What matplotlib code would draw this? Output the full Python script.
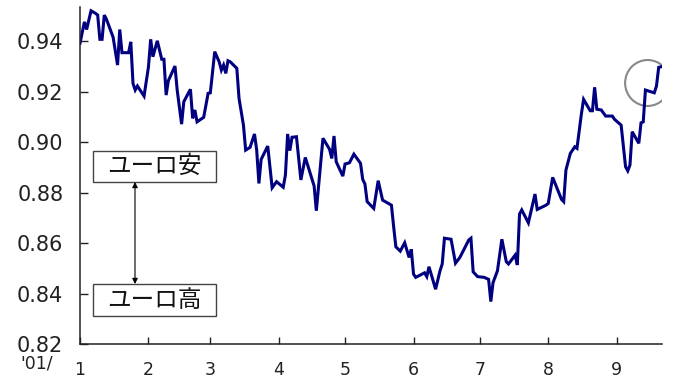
import matplotlib
matplotlib.use("Agg")
import matplotlib.pyplot as plt
from matplotlib.patches import Ellipse, Rectangle

# Day offsets from 2001-01-01 and EUR/USD rate
days = [0, 2, 3, 5, 7, 8, 9, 10, 11, 12, 15, 17, 18, 19, 22, 23, 24, 25, 26, 29,
        31, 32, 33, 35, 37, 38, 39, 40, 43, 44, 46, 47, 50, 51, 52, 53, 56, 58, 59, 61,
        63, 64, 65, 66, 67, 68, 71, 72, 74, 75, 77, 79, 80, 81, 82, 85, 87, 89, 92, 93,
        94, 95, 96, 98, 100, 102, 106, 107, 110, 113, 114, 115, 116, 119, 120, 122, 124, 127, 128, 129,
        130, 133, 135, 137, 141, 142, 143, 145, 147, 149, 150, 151, 152, 156, 157, 158, 161, 163, 164, 165,
        168, 170, 172, 176, 177, 178, 180, 183, 185, 186, 187, 189, 191, 193, 194, 197, 198, 199, 200, 203,
        206, 207, 211, 212, 214, 218, 219, 220, 222, 224, 225, 227, 228, 231, 232, 233, 234, 236, 238, 241,
        242, 245, 247, 248, 249, 250, 253, 254, 255, 256, 260, 261, 262, 263]
rates = [0.9391, 0.9476, 0.9446, 0.9520, 0.9510, 0.9503, 0.9407, 0.9407, 0.9503, 0.9486,
         0.9415, 0.9305, 0.9446, 0.9354, 0.9354, 0.9397, 0.9232, 0.9206, 0.9222, 0.9182,
         0.9298, 0.9407, 0.9338, 0.9401, 0.9328, 0.9328, 0.9186, 0.9243, 0.9301, 0.9206,
         0.9071, 0.9160, 0.9209, 0.9094, 0.9127, 0.9080, 0.9098, 0.9193, 0.9195, 0.9358,
         0.9318, 0.9285, 0.9305, 0.9272, 0.9322, 0.9318, 0.9292, 0.9173, 0.9067, 0.8968,
         0.8979, 0.9032, 0.8968, 0.8836, 0.8931, 0.8984, 0.8819, 0.8843, 0.8821, 0.8869,
         0.9032, 0.8966, 0.9019, 0.9021, 0.8850, 0.8939, 0.8826, 0.8728, 0.9015, 0.8971,
         0.8935, 0.9024, 0.8922, 0.8865, 0.8913, 0.8918, 0.8952, 0.8916, 0.8852, 0.8834,
         0.8764, 0.8737, 0.8847, 0.8770, 0.8750, 0.8665, 0.8585, 0.8568, 0.8601, 0.8543,
         0.8575, 0.8477, 0.8464, 0.8482, 0.8467, 0.8506, 0.8417, 0.8490, 0.8517, 0.8619,
         0.8615, 0.8520, 0.8543, 0.8612, 0.8619, 0.8486, 0.8467, 0.8464, 0.8456, 0.8368,
         0.8443, 0.8490, 0.8615, 0.8526, 0.8517, 0.8552, 0.8513, 0.8715, 0.8731, 0.8680,
         0.8794, 0.8733, 0.8750, 0.8757, 0.8860, 0.8773, 0.8764, 0.8889, 0.8955, 0.8981,
         0.8975, 0.9111, 0.9169, 0.9124, 0.9124, 0.9217, 0.9130, 0.9127, 0.9103, 0.9103,
         0.9090, 0.9067, 0.8902, 0.8886, 0.8909, 0.9041, 0.8995, 0.9076, 0.9080, 0.9206,
         0.9195, 0.9222, 0.9296, 0.9298]

month_starts = [0, 31, 59, 90, 120, 151, 181, 212, 243]
month_labels = ["1", "2", "3", "4", "5", "6", "7", "8", "9"]
y_ticks = [0.82, 0.84, 0.86, 0.88, 0.90, 0.92, 0.94]
y_labels = ["0.82", "0.84", "0.86", "0.88", "0.90", "0.92", "0.94"]
label_weak = "ユーロ安"
label_strong = "ユーロ高"
year_label = "'01/"

fig = plt.figure(figsize=(6.78, 3.80), dpi=100)
ax = fig.add_axes([80/678, 1-344/380, 582/678, 337/380])

ax.plot(days, rates, color="#000080", lw=2.2, solid_joinstyle="miter")

ax.set_xlim(0, 263.5)
ax.set_ylim(0.82, 0.9535)
ax.set_xticks(month_starts)
ax.set_xticklabels(month_labels, fontsize=12.5, family="DejaVu Sans")
ax.set_yticks(y_ticks)
ax.set_yticklabels(y_labels, fontsize=15, family="DejaVu Sans")
ax.tick_params(axis="y", direction="in", length=6, width=1, pad=12, colors="#222222")
ax.tick_params(axis="x", direction="in", length=5, width=1, pad=12, colors="#222222")
for s in ["top", "right"]:
    ax.spines[s].set_visible(False)
for s in ["left", "bottom"]:
    ax.spines[s].set_color("#222222")
    ax.spines[s].set_linewidth(1.1)

# highlight circle
ax.add_patch(Ellipse((257, 0.9234), width=20.4, height=0.0182, fill=False,
                     edgecolor="#888888", lw=1.5))

# annotation boxes
cjk = ["Noto Sans CJK JP", "DejaVu Sans"]
for (y0, y1, txt) in [(0.4816, 0.5736, label_weak), (0.0831, 0.1772, label_strong)]:
    ax.add_patch(Rectangle((0.0218, y0), 0.2119, y1 - y0, transform=ax.transAxes,
                           fill=True, facecolor="white", edgecolor="#444444", lw=1.0,
                           clip_on=False))
    ax.text(0.1277, (y0 + y1) / 2, txt, transform=ax.transAxes, ha="center",
            va="center", fontsize=17, family=cjk, color="#111111")

ax.annotate("", xy=(0.0945, 0.4807), xytext=(0.0945, 0.178),
            xycoords="axes fraction", textcoords="axes fraction",
            arrowprops=dict(arrowstyle="<|-|>", color="black", lw=0.8,
                            mutation_scale=8, shrinkA=0, shrinkB=0))

fig.text(37/678, 1-364/380, year_label, ha="center", va="center",
         fontsize=12.5, family="DejaVu Sans", color="#222222")

fig.savefig("out.png", dpi=100)
